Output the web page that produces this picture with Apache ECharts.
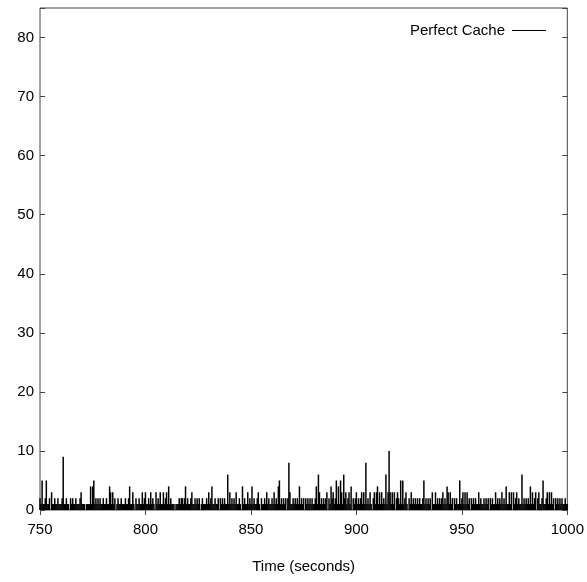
<!DOCTYPE html>
<html>
<head>
<meta charset="utf-8">
<script src="https://cdn.jsdelivr.net/npm/echarts@6/dist/echarts.min.js"></script>
<style>
html, body { margin: 0; padding: 0; background: #fff; }
#chart { width: 587px; height: 582px; }
</style>
</head>
<body>
<div id="chart"></div>
<script>
// Sampling: one value every half second, from 750 s to 1000 s
const startTime = 750;
const stepSeconds = 0.5;

// Values per 10-second block (20 samples each)
const block750 = [2,1,5,1,1,2,5,1,1,2,0,3,1,1,2,1,1,2,1,1];
const block760 = [1,2,9,1,1,2,1,1,0,2,1,2,1,1,2,1,1,1,2,3];
const block770 = [1,1,1,0,1,1,1,1,4,1,4,5,1,2,1,2,1,2,1,1];
const block780 = [2,1,1,2,1,1,4,3,1,3,1,2,0,1,2,1,1,2,1,1];
const block790 = [1,2,1,1,2,4,1,1,3,1,0,2,1,1,2,1,1,3,1,2];
const block800 = [3,1,1,2,1,3,1,2,1,0,3,1,2,1,3,1,1,3,1,2];
const block810 = [3,1,4,1,2,1,1,1,0,1,1,1,2,1,2,2,1,2,4,1];
const block820 = [2,1,1,2,3,1,1,2,1,2,1,2,0,1,2,1,1,1,2,1];
const block830 = [3,1,2,4,1,1,2,1,1,2,0,2,1,2,1,2,1,1,6,1];
const block840 = [3,1,2,1,2,1,3,1,1,2,1,0,4,1,2,1,1,3,1,2];
const block850 = [1,4,1,2,1,1,2,3,1,0,2,1,1,2,1,3,1,2,1,1];
const block860 = [2,1,3,1,2,1,4,5,1,2,1,2,1,2,0,2,8,3,1,1];
const block870 = [2,1,2,1,2,1,4,1,2,1,2,0,2,1,2,1,2,1,2,1];
const block880 = [1,2,4,1,6,3,1,2,1,2,1,2,3,0,2,1,4,2,3,1];
const block890 = [2,5,1,4,1,5,3,1,6,2,3,1,2,3,1,4,0,2,1,2];
const block900 = [3,1,2,1,2,3,1,3,1,8,1,2,1,3,1,0,2,3,1,3];
const block910 = [4,1,3,1,3,1,2,1,6,1,3,10,3,1,3,1,3,0,2,3];
const block920 = [2,1,5,1,5,1,2,3,1,0,2,1,3,1,2,1,2,1,2,1];
const block930 = [2,1,1,2,5,1,2,1,2,1,2,0,3,1,1,3,1,2,1,2];
const block940 = [1,2,3,1,2,1,4,3,1,3,1,2,0,2,1,2,1,1,5,1];
const block950 = [2,3,1,3,1,3,1,2,0,2,1,2,1,2,1,1,3,1,2,1];
const block960 = [1,2,1,2,1,2,0,2,1,2,1,1,3,1,2,1,2,1,3,1];
const block970 = [2,1,4,1,1,3,1,3,0,3,1,2,3,1,2,1,1,6,1,2];
const block980 = [1,2,1,2,1,4,1,3,1,2,3,0,2,3,1,1,2,5,1,1];
const block990 = [2,3,1,3,1,3,1,2,0,2,1,2,1,2,1,2,1,1,2,1];
const finalValue = [1];

// Axis ticks
const xTicks = [750, 800, 850, 900, 950, 1000];
const yTicks = [0, 10, 20, 30, 40, 50, 60, 70, 80];

const seriesName = 'Perfect Cache';
const xTitle = 'Time (seconds)';

const allValues = [].concat(
  block750, block760, block770, block780, block790,
  block800, block810, block820, block830, block840,
  block850, block860, block870, block880, block890,
  block900, block910, block920, block930, block940,
  block950, block960, block970, block980, block990,
  finalValue
);
const points = allValues.map((v, i) => [startTime + i * stepSeconds, v]);

const fontFamily = '"Liberation Sans", Arial, sans-serif';
const frameColor = '#444';

const chart = echarts.init(document.getElementById('chart'), null, { renderer: 'canvas' });

const hiddenAxisBase = {
  axisLine: { show: false },
  axisLabel: { show: false },
  splitLine: { show: false },
  axisTick: { show: true, inside: true, length: 5, lineStyle: { color: frameColor } }
};

chart.setOption({
  animation: false,
  backgroundColor: '#fff',
  grid: {
    left: 40, right: 17, top: 8, bottom: 72,
    show: true, borderColor: frameColor, borderWidth: 1, backgroundColor: 'transparent'
  },
  legend: {
    data: [seriesName],
    right: 36, top: 18,
    align: 'right',
    itemWidth: 34, itemHeight: 1,
    itemGap: 6,
    icon: 'rect',
    textStyle: { fontFamily, fontSize: 15, color: '#000', padding: [0, 2, 0, 0] },
    itemStyle: { color: '#000', borderWidth: 0 }
  },
  xAxis: [
    {
      type: 'value', min: 750, max: 1000, interval: 50,
      position: 'bottom',
      name: xTitle, nameLocation: 'middle', nameGap: 49,
      nameTextStyle: { fontFamily, fontSize: 15, color: '#000' },
      axisLine: { show: false },
      axisTick: { show: true, inside: true, length: 5, lineStyle: { color: frameColor } },
      axisLabel: { fontFamily, fontSize: 15, color: '#000', margin: 12,
        formatter: v => xTicks.includes(v) ? String(v) : '' },
      splitLine: { show: false }
    },
    Object.assign({ type: 'value', min: 750, max: 1000, interval: 50, position: 'top' }, hiddenAxisBase)
  ],
  yAxis: [
    {
      type: 'value', min: 0, max: 85, interval: 10,
      position: 'left',
      axisLine: { show: false },
      axisTick: { show: true, inside: true, length: 5, lineStyle: { color: frameColor } },
      axisLabel: { fontFamily, fontSize: 15, color: '#000', margin: 6,
        formatter: v => yTicks.includes(v) ? String(v) : '' },
      splitLine: { show: false }
    },
    Object.assign({ type: 'value', min: 0, max: 85, interval: 10, position: 'right' }, hiddenAxisBase)
  ],
  series: [
    {
      // drawn as impulses: one thin column per sample
      name: seriesName,
      type: 'bar',
      data: points,
      barWidth: 1.5,
      itemStyle: { color: '#000' },
      clip: true
    }
  ]
});
</script>
</body>
</html>
